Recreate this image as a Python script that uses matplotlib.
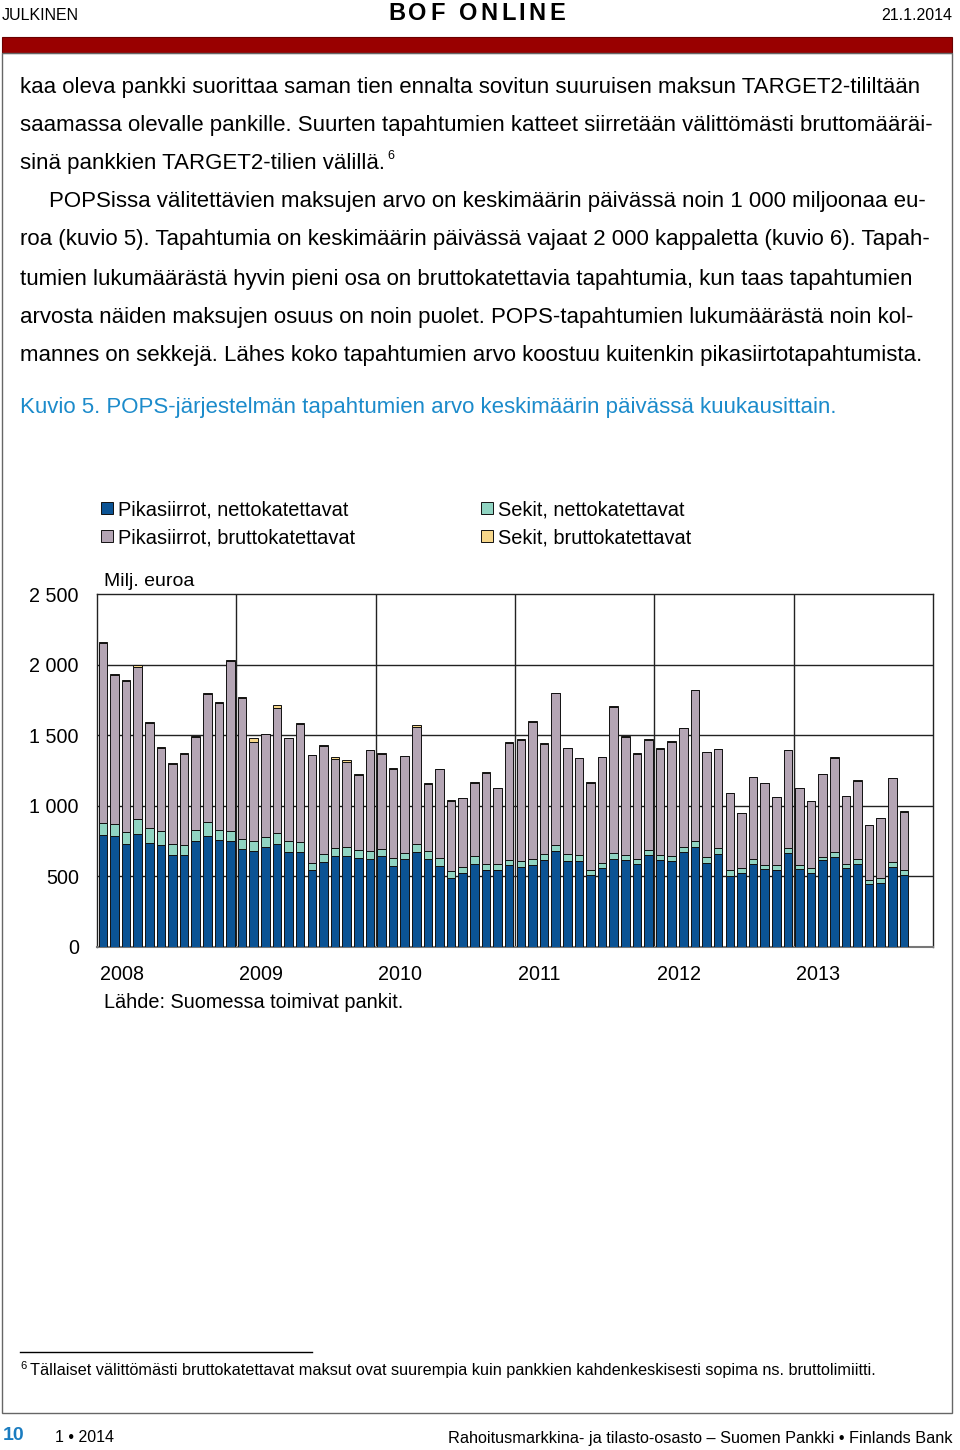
import matplotlib
matplotlib.use('Agg')
import matplotlib.pyplot as plt
from matplotlib.lines import Line2D
from matplotlib.patches import Rectangle
import numpy as np

W, H = 960, 1450
plt.rcParams['font.family'] = ['Liberation Sans', 'DejaVu Sans']

# ---------------- data ----------------
years = ['2008', '2009', '2010', '2011', '2012', '2013']
n_months = 70  # Jan 2008 .. Oct 2013

net_transfers = [791, 784, 732, 802, 739, 720, 654, 649, 748, 786, 755, 748,
                 691, 680, 706, 732, 670, 673, 543, 602, 642, 647, 628, 625,
                 642, 573, 621, 673, 621, 573, 489, 526, 590, 543, 548, 583,
                 566, 583, 618, 680, 609, 609, 507, 562, 621, 614, 590, 649,
                 618, 609, 673, 708, 597, 656, 503, 526, 590, 550, 548, 666,
                 550, 526, 614, 637, 559, 590, 444, 455, 566, 512]
net_cheques = [87, 89, 82, 102, 106, 99, 78, 75, 83, 99, 71, 71,
               76, 70, 73, 77, 80, 70, 54, 54, 59, 61, 56, 55,
               54, 57, 47, 59, 59, 57, 49, 40, 54, 47, 42, 35,
               40, 40, 43, 44, 52, 40, 41, 35, 45, 40, 35, 35,
               36, 33, 35, 40, 40, 47, 45, 36, 35, 33, 35, 35,
               33, 36, 23, 36, 26, 35, 28, 34, 36, 31]
gross_transfers = [1276, 1050, 1068, 1081, 740, 591, 566, 642, 655, 905, 903, 1203,
                   995, 705, 726, 882, 727, 835, 761, 768, 629, 604, 535, 712,
                   668, 632, 683, 827, 477, 629, 497, 488, 520, 645, 535, 829,
                   861, 971, 780, 1072, 746, 688, 617, 746, 1036, 836, 744, 783,
                   751, 812, 842, 1071, 744, 699, 540, 387, 576, 578, 479, 694,
                   542, 472, 588, 668, 481, 552, 392, 424, 592, 415]
gross_cheques = [8, 10, 8, 12, 8, 6, 5, 5, 8, 10, 6, 8,
                 8, 25, 5, 20, 5, 8, 4, 4, 15, 10, 3, 5,
                 10, 8, 4, 10, 4, 4, 3, 3, 4, 2, 3, 2,
                 3, 4, 3, 2, 4, 3, 3, 2, 2, 2, 2, 3,
                 2, 2, 3, 3, 2, 2, 2, 2, 3, 2, 2, 2,
                 3, 2, 2, 2, 3, 3, 2, 3, 3, 3]

series_labels = ['Pikasiirrot, nettokatettavat', 'Pikasiirrot, bruttokatettavat',
                 'Sekit, nettokatettavat', 'Sekit, bruttokatettavat']
y_ticks = [0, 500, 1000, 1500, 2000, 2500]
y_tick_labels = ['0', '500', '1 000', '1 500', '2 000', '2 500']

body_lines = [
    "kaa oleva pankki suorittaa saman tien ennalta sovitun suuruisen maksun TARGET2-tililtään",
    "saamassa olevalle pankille. Suurten tapahtumien katteet siirretään välittömästi bruttomääräi-",
    "sinä pankkien TARGET2-tilien välillä.",
    "POPSissa välitettävien maksujen arvo on keskimäärin päivässä noin 1 000 miljoonaa eu-",
    "roa (kuvio 5). Tapahtumia on keskimäärin päivässä vajaat 2 000 kappaletta (kuvio 6). Tapah-",
    "tumien lukumäärästä hyvin pieni osa on bruttokatettavia tapahtumia, kun taas tapahtumien",
    "arvosta näiden maksujen osuus on noin puolet. POPS-tapahtumien lukumäärästä noin kol-",
    "mannes on sekkejä. Lähes koko tapahtumien arvo koostuu kuitenkin pikasiirtotapahtumista.",
]
body_x = [20, 20, 20, 49, 20, 20, 20, 20]
body_y = [87, 125, 163, 202, 240, 279, 318, 356]

C_BLUE = '#0b5394'
C_GRAY = '#b4a5b4'
C_TEAL = '#90d4c2'
C_YEL = '#f6d68a'
C_CAP = '#1c8bcb'

fig = plt.figure(figsize=(W / 100, H / 100), dpi=100)
renderer = fig.canvas.get_renderer()


def fx(x):
    return x / W


def fy(y):
    return 1 - y / H


def ftext(x, y, s, size, **kw):
    kw.setdefault('va', 'center')
    return fig.text(fx(x), fy(y), s, fontsize=size, **kw)


# ---------------- page decorations ----------------
fig.add_artist(Rectangle((fx(2), fy(53)), (952 - 2) / W, (53 - 37) / H,
                         transform=fig.transFigure, facecolor='#990000',
                         edgecolor='#6a0000', lw=0.8))
fig.add_artist(Rectangle((fx(2), fy(1413)), (952 - 2) / W, (1413 - 53) / H,
                         transform=fig.transFigure, fill=False,
                         edgecolor='#666666', lw=1.0))
fig.add_artist(Line2D([fx(20), fx(312)], [fy(1352), fy(1352)],
                      transform=fig.transFigure, color='black', lw=1.0))

ftext(2, 15, 'JULKINEN', 11.5, ha='left')
ftext(952, 15, '21.1.2014', 11.5, ha='right')

# letter-spaced title
title = 'BOF ONLINE'
widths = []
for ch in title:
    t = fig.text(0, 0, ch if ch != ' ' else 'n', fontsize=17, fontweight='bold')
    bb = t.get_window_extent(renderer)
    widths.append(bb.width if ch != ' ' else bb.width * 0.5)
    t.remove()
total = sum(widths)
gap = (177 - total) / (len(title) - 1)
xc = 388
for ch, w in zip(title, widths):
    if ch != ' ':
        ftext(xc, 13, ch, 17, ha='left', fontweight='bold')
    xc += w + gap

# body text
BODY = 16
line3 = None
for i, (s, x, y) in enumerate(zip(body_lines, body_x, body_y)):
    t = ftext(x, y, s, BODY, ha='left')
    if i == 2:
        line3 = t
bb3 = line3.get_window_extent(renderer)
ftext(bb3.x1 + 2, 156, '6', 9, ha='left')
ftext(20, 407, 'Kuvio 5. POPS-järjestelmän tapahtumien arvo keskimäärin päivässä kuukausittain.',
      BODY, ha='left', color=C_CAP)

# footnote and footer
ftext(20, 1366, '6', 8, ha='left')
ftext(30, 1371, 'Tällaiset välittömästi bruttokatettavat maksut ovat suurempia kuin pankkien '
      'kahdenkeskisesti sopima ns. bruttolimiitti.', 11.7, ha='left')
ftext(3, 1436, '10', 14, ha='left', fontweight='bold', color='#1a7cc0')
ftext(55, 1438, '1 \u2022 2014', 11.5, ha='left')
ftext(952, 1438, 'Rahoitusmarkkina- ja tilasto-osasto \u2013 Suomen Pankki \u2022 Finlands Bank',
      11.7, ha='right')

# ---------------- chart ----------------
ax = fig.add_axes([fx(97), fy(947), (933 - 97) / W, (947 - 594) / H])
x = np.arange(n_months)
nt = np.array(net_transfers)
nc = np.array(net_cheques)
gt = np.array(gross_transfers)
gc = np.array(gross_cheques)
bw = 0.74
ekw = dict(edgecolor='#111111', linewidth=0.7, width=bw, zorder=3)
b1 = ax.bar(x, nt, color=C_BLUE, label=series_labels[0], **ekw)
b3 = ax.bar(x, nc, bottom=nt, color=C_TEAL, label=series_labels[2], **ekw)
b2 = ax.bar(x, gt, bottom=nt + nc, color=C_GRAY, label=series_labels[1], **ekw)
b4 = ax.bar(x, gc, bottom=nt + nc + gt, color=C_YEL, label=series_labels[3], **ekw)

ax.set_xlim(-0.5, 71.5)
ax.set_ylim(0, 2500)
ax.set_yticks(y_ticks)
ax.set_yticklabels(y_tick_labels)
for yv in y_ticks[1:-1]:
    ax.axhline(yv, color='#222222', lw=1.0, zorder=1)
for k in range(1, 6):
    ax.axvline(-0.5 + 12 * k, color='#222222', lw=1.0, zorder=1)
ax.set_xticks([-0.5 + 12 * k + 0.22 for k in range(6)])
ax.set_xticklabels(years)
for lbl in ax.get_xticklabels():
    lbl.set_horizontalalignment('left')
ax.tick_params(axis='both', length=0, labelsize=14.2)
ax.tick_params(axis='x', pad=13)
ax.tick_params(axis='y', pad=13)
for sp in ax.spines.values():
    sp.set_color('#222222')
    sp.set_linewidth(1.0)
ax.spines['bottom'].set_color('#777777')
ax.spines['bottom'].set_linewidth(1.5)

ftext(104, 582, 'Milj. euroa', 14, ha='left')
ftext(104, 1002, 'Lähde: Suomessa toimivat pankit.', 14.3, ha='left')

fig.legend([b1, b2, b3, b4], [series_labels[0], series_labels[1],
                              series_labels[2], series_labels[3]],
           ncol=2, loc='upper left', bbox_to_anchor=(fx(101), fy(500)),
           frameon=False, fontsize=14.4, handlelength=0.6, handleheight=0.6,
           handletextpad=0.25, columnspacing=6.3, labelspacing=0.45,
           borderaxespad=0, borderpad=0)

fig.savefig('out.png', dpi=100)
